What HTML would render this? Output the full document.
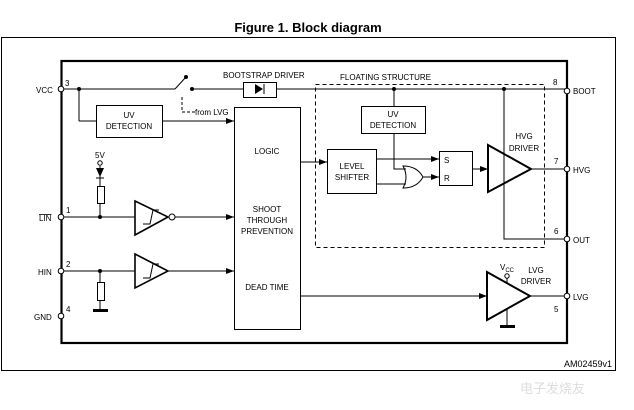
<!DOCTYPE html>
<html><head><meta charset="utf-8"><style>
html,body{margin:0;padding:0;background:#fff;}
svg{display:block;}
text{font-family:"Liberation Sans",sans-serif;font-size:8px;fill:#000;}
</style></head><body>
<svg width="634" height="410" viewBox="0 0 634 410" xmlns="http://www.w3.org/2000/svg">
<defs>
<marker id="a" markerWidth="8" markerHeight="6" refX="8" refY="3" orient="auto" markerUnits="userSpaceOnUse"><path d="M0,0 L8,3 L0,6 Z" fill="#000"/></marker>
</defs>
<text x="308" y="32" text-anchor="middle" style="font-size:13px;font-weight:bold">Figure 1. Block diagram</text>
<rect x="1.5" y="37.5" width="614" height="333" fill="none" stroke="#000" stroke-width="1"/>
<rect x="61.5" y="61" width="505.5" height="282" fill="none" stroke="#000" stroke-width="2.2"/>
<text x="612" y="367" text-anchor="end" style="font-size:9px">AM02459v1</text>
<g stroke="#000" stroke-width="1" fill="none">
<line x1="61" y1="89" x2="175" y2="89"/>
<line x1="175" y1="89" x2="186" y2="77"/>
<line x1="192" y1="89" x2="243" y2="89"/>
<line x1="276" y1="89" x2="567" y2="89"/>
<rect x="243.5" y="82.5" width="33" height="15"/>
<line x1="79" y1="89" x2="79" y2="121"/><line x1="79" y1="121" x2="96" y2="121"/>
<rect x="96.5" y="105.5" width="66" height="32"/>
<line x1="162" y1="121" x2="234" y2="121" marker-end="url(#a)"/>
<path d="M182,97 V112 H195" stroke-dasharray="3,2"/>
<rect x="234.5" y="107.5" width="66" height="222"/>
<rect x="315.5" y="84.5" width="229" height="163" stroke-dasharray="4,3"/>
<line x1="394" y1="89" x2="394" y2="106"/>
<rect x="361.5" y="106.5" width="64" height="27"/>
<path d="M394,133 V169 H406"/>
<line x1="300" y1="162" x2="327" y2="162" marker-end="url(#a)"/>
<rect x="327.5" y="149.5" width="49" height="44"/>
<line x1="376" y1="159" x2="439" y2="159" marker-end="url(#a)"/>
<line x1="376" y1="184" x2="406" y2="184"/>
<path d="M403,166 Q409,177 403,188 Q417,188 423,177 Q417,166 403,166 Z"/>
<line x1="423" y1="177" x2="439" y2="177" marker-end="url(#a)"/>
<rect x="439.5" y="151.5" width="33" height="34"/>
<line x1="472" y1="169" x2="488" y2="169" marker-end="url(#a)"/>
<path d="M488,145 L531,169 L488,192 Z" stroke-width="2"/>
<line x1="531" y1="169" x2="567" y2="169"/>
<path d="M504,89 V239 H567"/>
<line x1="300" y1="296" x2="487" y2="296" marker-end="url(#a)"/>
<path d="M487,272 L530,296 L487,320 Z" stroke-width="2"/>
<line x1="530" y1="296" x2="567" y2="296"/>
<line x1="507" y1="278" x2="507" y2="284"/>
<line x1="507" y1="308" x2="507" y2="326"/>
<line x1="61" y1="217" x2="135" y2="217"/>
<line x1="100" y1="166" x2="100" y2="217"/>
<rect x="97.5" y="186.5" width="7" height="17" fill="#fff"/>
<path d="M135,201 L168,217 L135,235 Z" stroke-width="1.6"/>
<circle cx="172" cy="217" r="3" fill="#fff"/>
<line x1="175" y1="217" x2="234" y2="217" marker-end="url(#a)"/>
<path d="M143,224 H150 L153,210 H159"/>
<line x1="61" y1="271" x2="135" y2="271"/>
<line x1="100" y1="271" x2="100" y2="310"/>
<rect x="97.5" y="282.5" width="7" height="18" fill="#fff"/>
<path d="M135,254 L168,271 L135,288 Z" stroke-width="1.6"/>
<line x1="168" y1="271" x2="234" y2="271" marker-end="url(#a)"/>
<path d="M143,278 H150 L153,264 H159"/>
</g>
<path d="M96,168 H104 L100,177 Z" fill="#000"/><line x1="96" y1="178" x2="104" y2="178" stroke="#000"/>
<path d="M255,84 L263,89 L255,94 Z" fill="#000"/><line x1="264" y1="84" x2="264" y2="94" stroke="#000"/>
<rect x="93" y="309" width="15" height="3" fill="#000"/>
<rect x="500" y="325" width="15" height="3" fill="#000"/>
<g fill="#000">
<circle cx="79" cy="89" r="2"/><circle cx="186" cy="77" r="2"/><circle cx="192" cy="89" r="2"/>
<circle cx="394" cy="89" r="2"/><circle cx="504" cy="89" r="2"/>
<circle cx="100" cy="217" r="2"/><circle cx="100" cy="271" r="2"/>
</g>
<g fill="#fff" stroke="#000" stroke-width="1">
<circle cx="61" cy="89" r="2.8"/><circle cx="61" cy="217" r="2.8"/><circle cx="61" cy="271" r="2.8"/><circle cx="61" cy="316" r="2.8"/>
<circle cx="567" cy="91" r="2.8"/><circle cx="567" cy="169" r="2.8"/><circle cx="567" cy="239" r="2.8"/><circle cx="567" cy="296" r="2.8"/>
<circle cx="100" cy="163" r="2.2"/><circle cx="507" cy="276" r="2.2"/>
</g>
<text x="36" y="93">VCC</text><text x="65" y="86">3</text>
<text x="39" y="221" style="text-decoration:overline">LIN</text><text x="66" y="213">1</text>
<text x="38" y="275">HIN</text><text x="66" y="267">2</text>
<text x="34" y="320">GND</text><text x="66" y="312">4</text>
<text x="573" y="94">BOOT</text><text x="553" y="85">8</text>
<text x="573" y="173">HVG</text><text x="554" y="164">7</text>
<text x="573" y="243">OUT</text><text x="554" y="234">6</text>
<text x="573" y="300">LVG</text><text x="554" y="312">5</text>
<text x="223" y="78">BOOTSTRAP DRIVER</text>
<text x="340" y="80">FLOATING STRUCTURE</text>
<text x="195" y="115">from LVG</text>
<text x="129" y="118" text-anchor="middle">UV</text><text x="129" y="129" text-anchor="middle">DETECTION</text>
<text x="393" y="117" text-anchor="middle">UV</text><text x="393" y="128" text-anchor="middle">DETECTION</text>
<text x="267" y="154" text-anchor="middle">LOGIC</text>
<text x="267" y="212" text-anchor="middle">SHOOT</text><text x="267" y="223" text-anchor="middle">THROUGH</text><text x="267" y="234" text-anchor="middle">PREVENTION</text>
<text x="267" y="290" text-anchor="middle">DEAD TIME</text>
<text x="352" y="169" text-anchor="middle">LEVEL</text><text x="352" y="180" text-anchor="middle">SHIFTER</text>
<text x="444" y="163">S</text><text x="444" y="181">R</text>
<text x="524" y="139" text-anchor="middle">HVG</text><text x="524" y="151" text-anchor="middle">DRIVER</text>
<text x="536" y="273" text-anchor="middle">LVG</text><text x="536" y="284" text-anchor="middle">DRIVER</text>
<text x="95" y="158">5V</text>
<text x="500" y="270">V<tspan style="font-size:6px" dy="2">CC</tspan></text>
<text x="520" y="393" style="font-size:13px;fill:#ddd">电子发烧友</text>
</svg>
</body></html>
